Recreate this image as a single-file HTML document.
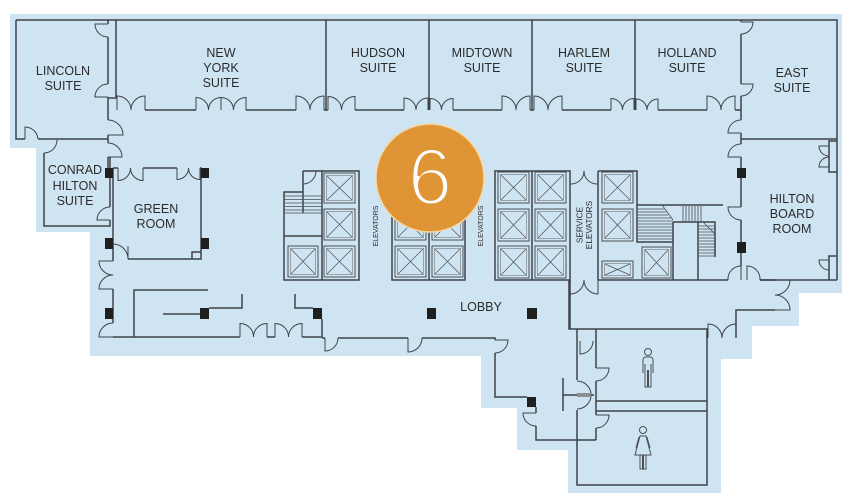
<!DOCTYPE html>
<html><head><meta charset="utf-8"><style>
html,body{margin:0;padding:0;background:#fff;}
svg{display:block;}
text{font-family:"Liberation Sans",Arial,sans-serif;fill:#2b2b2b;}
</style></head><body>
<svg width="852" height="502" viewBox="0 0 852 502" xmlns="http://www.w3.org/2000/svg">
<polygon points="10,14 842,14 842,293 799,293 799,326 752,326 752,359 721,359 721,493 568,493 568,450 517,450 517,408 481,408 481,356 90,356 90,232 36,232 36,148 10,148" fill="#cfe4f3"/>

<!-- walls -->
<g fill="none" stroke="#3e4348" stroke-width="1.5">
<path d="M16,20 H837 V280"/>
<path d="M16,20 V139 H25 M38,139 H108"/>
<path d="M108,20 V24 M108,37 V84 M108,97 V120 M108,135 V143 M108,157 V168"/>
<path d="M116,20 V98 H108"/>
<path d="M44,153 V226 H110 V220 M110,207 V157"/>
<path d="M145,110 H196 M246,110 H296 M324,110 H328 M355,110 H404 M453,110 H502 M530,110 H534 M562,110 H611 M658,110 H707 M735,110 H741"/>
<path d="M326,20 V110 M429,20 V110 M532,20 V110 M635,20 V110"/>
<path d="M741,20 V22 M741,34 V84 M741,96 V120 M741,133 V144 M741,157 V207 M741,220 V266"/>
<path d="M741,139 H837"/>
<path d="M760,280 H837"/>
<path d="M837,141 H829 V172 H837 M837,256 H829 V280"/>
<!-- green room -->
<path d="M113,168 H118 M143,168 H177 M200,168 H201 V259 H128 M192,259 V252 H201"/>
<path d="M113,168 V261 M113,289 V323"/>
<!-- lower left corridor -->
<path d="M113,337 H240 M267,337 H275 M302,337 H322 V319"/>
<path d="M134,337 V290 H208"/>
<path d="M163,314 H201"/>
<path d="M209,308 H242 V294"/>
<path d="M295,294 V308 H313"/>
<!-- lobby -->
<path d="M322,338 H325 M338,338 H408 M422,338 H495 V340 M495,353 V397 H527"/>
<path d="M536,407 V413 M536,426 V440 H596"/>
<!-- restrooms / service -->
<path d="M569,280 V329 H707 V485 H577 V410 M577,380 V329"/>
<path d="M596,329 V368 M596,381 V415 M596,428 V440"/>
<path d="M596,401 H707 M596,411 H707"/>
<path d="M563,378 V411 M563,395 H594"/>
<!-- right corridor -->
<path d="M598,280 H728"/>
<path d="M775,280 H760 M775,310 H736 V338"/>
<!-- elevator blocks -->
<path d="M303,171 H359 V280 H284 V192 H303 M303,171 V213 M322,171 V280 M284,236 H322"/>
<rect x="392" y="171" width="73" height="109"/>
<path d="M429,171 V280"/>
<rect x="495" y="171" width="75" height="109"/>
<path d="M532,171 V280"/>
<path d="M570,280 V329 M598,171 V280 M598,171 H637 V242 H673 M673,222 V280 M673,222 H715 V257 M698,222 V280 M637,205 H723"/>
</g>

<!-- stairs -->
<g stroke="#4a4f54" stroke-width="0.8" fill="none">
<path d="M284,196 H322 M284,199.5 H322 M284,203 H322 M284,206.5 H322 M284,210 H322 M284,213 H322"/>
<path d="M638,209 H664 M638,212 H666 M638,215 H668 M638,218 H671 M638,221 H673 M638,224 H673 M638,227 H673 M638,230 H673 M638,233 H673 M638,236 H673 M638,239 H673 M662,205 L673,220"/>
<path d="M683,206 V222 M686,206 V222 M689,206 V222 M692,206 V222 M695,206 V222 M698,206 V222 M701,206 V222"/>
<path d="M699,226 H715 M699,229 H715 M699,232 H715 M699,235 H715 M699,238 H715 M699,241 H715 M699,244 H715 M699,247 H715 M699,250 H715 M699,253 H715 M699,256 H715 M703,222 L715,234"/>
</g>

<!-- elevator cars -->
<g fill="none">
<g stroke="#4a4f54" stroke-width="1">
<rect x="324" y="173" width="31" height="30"/><rect x="324" y="209" width="31" height="31"/><rect x="324" y="246" width="31" height="31"/><rect x="288" y="246" width="30" height="31"/>
<rect x="395" y="173" width="31" height="30"/><rect x="395" y="209" width="31" height="31"/><rect x="395" y="246" width="31" height="31"/>
<rect x="432" y="173" width="31" height="30"/><rect x="432" y="209" width="31" height="31"/><rect x="432" y="246" width="31" height="31"/>
<rect x="498" y="172" width="31" height="31"/><rect x="498" y="209" width="31" height="32"/><rect x="498" y="246" width="31" height="32"/>
<rect x="535" y="172" width="31" height="31"/><rect x="535" y="209" width="31" height="32"/><rect x="535" y="246" width="31" height="32"/>
<rect x="602" y="172" width="31" height="31"/><rect x="602" y="209" width="31" height="32"/><rect x="602" y="261" width="31" height="17"/>
<rect x="642" y="247" width="29" height="31"/>
</g>
<g stroke="#8c9297" stroke-width="0.8">
<rect x="326.5" y="175.5" width="26" height="25"/><rect x="326.5" y="211.5" width="26" height="26"/><rect x="326.5" y="248.5" width="26" height="26"/><rect x="290.5" y="248.5" width="25" height="26"/>
<rect x="397.5" y="175.5" width="26" height="25"/><rect x="397.5" y="211.5" width="26" height="26"/><rect x="397.5" y="248.5" width="26" height="26"/>
<rect x="434.5" y="175.5" width="26" height="25"/><rect x="434.5" y="211.5" width="26" height="26"/><rect x="434.5" y="248.5" width="26" height="26"/>
<rect x="500.5" y="174.5" width="26" height="26"/><rect x="500.5" y="211.5" width="26" height="27"/><rect x="500.5" y="248.5" width="26" height="27"/>
<rect x="537.5" y="174.5" width="26" height="26"/><rect x="537.5" y="211.5" width="26" height="27"/><rect x="537.5" y="248.5" width="26" height="27"/>
<rect x="604.5" y="174.5" width="26" height="26"/><rect x="604.5" y="211.5" width="26" height="27"/><rect x="604.5" y="263.5" width="26" height="12"/>
<rect x="644.5" y="249.5" width="24" height="26"/>
</g>
<g stroke="#4a4f54" stroke-width="0.7">
<path d="M327,176 L352,200 M352,176 L327,200 M327,212 L352,237 M352,212 L327,237 M327,249 L352,274 M352,249 L327,274 M291,249 L315,274 M315,249 L291,274"/>
<path d="M398,176 L423,200 M423,176 L398,200 M398,212 L423,237 M423,212 L398,237 M398,249 L423,274 M423,249 L398,274"/>
<path d="M435,176 L460,200 M460,176 L435,200 M435,212 L460,237 M460,212 L435,237 M435,249 L460,274 M460,249 L435,274"/>
<path d="M501,175 L526,200 M526,175 L501,200 M501,212 L526,238 M526,212 L501,238 M501,249 L526,275 M526,249 L501,275"/>
<path d="M538,175 L563,200 M563,175 L538,200 M538,212 L563,238 M563,212 L538,238 M538,249 L563,275 M563,249 L538,275"/>
<path d="M605,175 L630,200 M630,175 L605,200 M605,212 L630,238 M630,212 L605,238 M605,264 L630,275 M630,264 L605,275"/>
<path d="M645,250 L668,275 M668,250 L645,275"/>
</g>
</g>

<!-- doors -->
<g fill="none" stroke="#3e4348" stroke-width="1">
<path d="M117,110 V96 A14 14 0 0 1 131,110 A14 14 0 0 1 145,96 V110"/>
<path d="M196,110 V97.5 A12.5 12.5 0 0 1 208.5,110 A12.5 12.5 0 0 1 221,97.5 V110"/>
<path d="M221,110 V97.5 A12.5 12.5 0 0 1 233.5,110 A12.5 12.5 0 0 1 246,97.5 V110"/>
<path d="M296,110 V96 A14 14 0 0 1 310,110 A14 14 0 0 1 324,96 V110"/>
<path d="M328,110 V96.5 A13.5 13.5 0 0 1 341.5,110 A13.5 13.5 0 0 1 355,96.5 V110"/>
<path d="M404,110 V98 A12 12 0 0 1 416,110 A12 12 0 0 1 428,98 V110"/>
<path d="M430,110 V98.5 A11.5 11.5 0 0 1 441.5,110 A11.5 11.5 0 0 1 453,98.5 V110"/>
<path d="M502,110 V96 A14 14 0 0 1 516,110 A14 14 0 0 1 530,96 V110"/>
<path d="M534,110 V96 A14 14 0 0 1 548,110 A14 14 0 0 1 562,96 V110"/>
<path d="M611,110 V98.5 A11.5 11.5 0 0 1 622.5,110 A11.5 11.5 0 0 1 634,98.5 V110"/>
<path d="M636,110 V99 A11 11 0 0 1 647,110 A11 11 0 0 1 658,99 V110"/>
<path d="M707,110 V96 A14 14 0 0 1 721,110 A14 14 0 0 1 735,96 V110"/>
<path d="M108,24 H95 A13 13 0 0 0 108,37"/>
<path d="M108,97 H95 A13 13 0 0 1 108,84"/>
<path d="M25,139 V127 A13 13 0 0 1 38,139"/>
<path d="M108,135 H123 A15 15 0 0 0 108,120"/>
<path d="M108,157 H122 A14 14 0 0 0 108,143"/>
<path d="M57,140 A13 13 0 0 1 44,153"/>
<path d="M110,220 H97 A13 13 0 0 1 110,207"/>
<path d="M118,168 V180.5 A12.5 12.5 0 0 0 130.5,168 A12.5 12.5 0 0 0 143,180.5 V168"/>
<path d="M177,168 V179.5 A11.5 11.5 0 0 0 188.5,168 A11.5 11.5 0 0 0 200,179.5 V168"/>
<path d="M113,244 A15 15 0 0 1 128,259 M128,259 V246"/>
<path d="M113,261 H99 A14 14 0 0 0 113,275 A14 14 0 0 0 99,289 H113"/>
<path d="M113,323 A14 14 0 0 0 99,337 H113"/>
<path d="M240,337 V323.5 A13.5 13.5 0 0 1 253.5,337 A13.5 13.5 0 0 1 267,323.5 V337"/>
<path d="M275,337 V323.5 A13.5 13.5 0 0 1 288.5,337 A13.5 13.5 0 0 1 302,323.5 V337"/>
<path d="M325,338 V351 A13 13 0 0 0 338,338"/>
<path d="M408,338 V352 A14 14 0 0 0 422,338"/>
<path d="M495,340 H508 A13 13 0 0 1 495,353"/>
<path d="M536,413 H523 A13 13 0 0 0 536,426"/>
<path d="M580,341 V354 A13 13 0 0 0 593,341"/>
<path d="M596,368 H609 A13 13 0 0 1 596,381"/>
<path d="M596,415 H609 A13 13 0 0 1 596,428"/>
<path d="M577,381 A14 14 0 0 1 577,409"/>
<path d="M708,338 V324 A14 14 0 0 1 722,338 A14 14 0 0 1 736,324 V338"/>
<path d="M741,280 V266 A13 13 0 0 0 728,280"/>
<path d="M747,280 V266 A13 13 0 0 1 760,280"/>
<path d="M775,280 H790 A15 15 0 0 1 775,295 A15 15 0 0 1 790,310 H775"/>
<path d="M741,207 H728 A13 13 0 0 0 741,220"/>
<path d="M741,22 H753 A12 12 0 0 1 741,34"/>
<path d="M741,84 H753 A12 12 0 0 1 741,96"/>
<path d="M741,133 H728 A13 13 0 0 1 741,120"/>
<path d="M741,157 H728 A13 13 0 0 1 741,144"/>
<path d="M829,146 H819 A10 10 0 0 0 829,156 M829,167 H819 A10 10 0 0 1 829,157"/>
<path d="M829,260 H819 A10 10 0 0 0 829,270"/>
<path d="M303,184 A13 13 0 0 0 316,171"/>
<path d="M584,171 A13 13 0 0 1 571,184 M584,171 A13 13 0 0 0 597,184"/>
<path d="M570,280 V294 A14 14 0 0 0 584,280 A14 14 0 0 0 598,294 V280"/>
</g>
<rect x="577" y="393" width="14" height="4" fill="#8a8f94"/>

<!-- pillars -->
<g fill="#1f1f1f">
<rect x="105" y="168" width="8" height="10"/><rect x="201" y="168" width="8" height="10"/>
<rect x="105" y="238" width="8" height="11"/><rect x="201" y="238" width="8" height="11"/>
<rect x="105" y="308" width="8" height="11"/><rect x="200" y="308" width="9" height="11"/>
<rect x="313" y="308" width="9" height="11"/><rect x="427" y="308" width="9" height="11"/>
<rect x="527" y="308" width="10" height="11"/><rect x="527" y="397" width="9" height="10"/>
<rect x="737" y="168" width="9" height="10"/><rect x="737" y="242" width="9" height="11"/>
</g>

<!-- men / women icons -->
<g fill="none" stroke="#4a4f54" stroke-width="1">
<circle cx="648" cy="352" r="3.5"/>
<path d="M643,373 V360 Q643,357 646,357 H650 Q653,357 653,360 V373 M645,364 V387 H647.5 V370 M648.5,370 V387 H651 V364"/>
<circle cx="643" cy="430" r="3.5"/>
<path d="M640,436 H646 L651,455 H635 Z M640,455 V469 H642.5 V455 M643.5,455 V469 H646 V455 M639,437 L636,448 M647,437 L650,448"/>
</g>

<!-- labels -->
<g font-size="12.5" text-anchor="middle">
<text x="63" y="75">LINCOLN</text><text x="63" y="90">SUITE</text>
<text x="221" y="57">NEW</text><text x="221" y="72">YORK</text><text x="221" y="87">SUITE</text>
<text x="378" y="57">HUDSON</text><text x="378" y="72">SUITE</text>
<text x="482" y="57">MIDTOWN</text><text x="482" y="72">SUITE</text>
<text x="584" y="57">HARLEM</text><text x="584" y="72">SUITE</text>
<text x="687" y="57">HOLLAND</text><text x="687" y="72">SUITE</text>
<text x="792" y="77">EAST</text><text x="792" y="92">SUITE</text>
<text x="75" y="174">CONRAD</text><text x="75" y="190">HILTON</text><text x="75" y="205">SUITE</text>
<text x="156" y="213">GREEN</text><text x="156" y="228">ROOM</text>
<text x="792" y="203">HILTON</text><text x="792" y="218">BOARD</text><text x="792" y="233">ROOM</text>
<text x="481" y="311">LOBBY</text>
</g>
<g text-anchor="middle" fill="#3a3a3a">
<text font-size="7" transform="translate(378,226) rotate(-90)">ELEVATORS</text>
<text font-size="7" transform="translate(483,226) rotate(-90)">ELEVATORS</text>
<text font-size="8.3" transform="translate(582.5,225) rotate(-90)">SERVICE</text>
<text font-size="8.3" transform="translate(592,225) rotate(-90)">ELEVATORS</text>
</g>

<!-- floor badge -->
<circle cx="430" cy="178" r="54" fill="#df9536" stroke="#f4d7a6" stroke-width="1.5"/>
<text x="430" y="204" font-size="80" text-anchor="middle" style="fill:#ffffff" stroke="#df9536" stroke-width="3">6</text>
</svg>
</body></html>
